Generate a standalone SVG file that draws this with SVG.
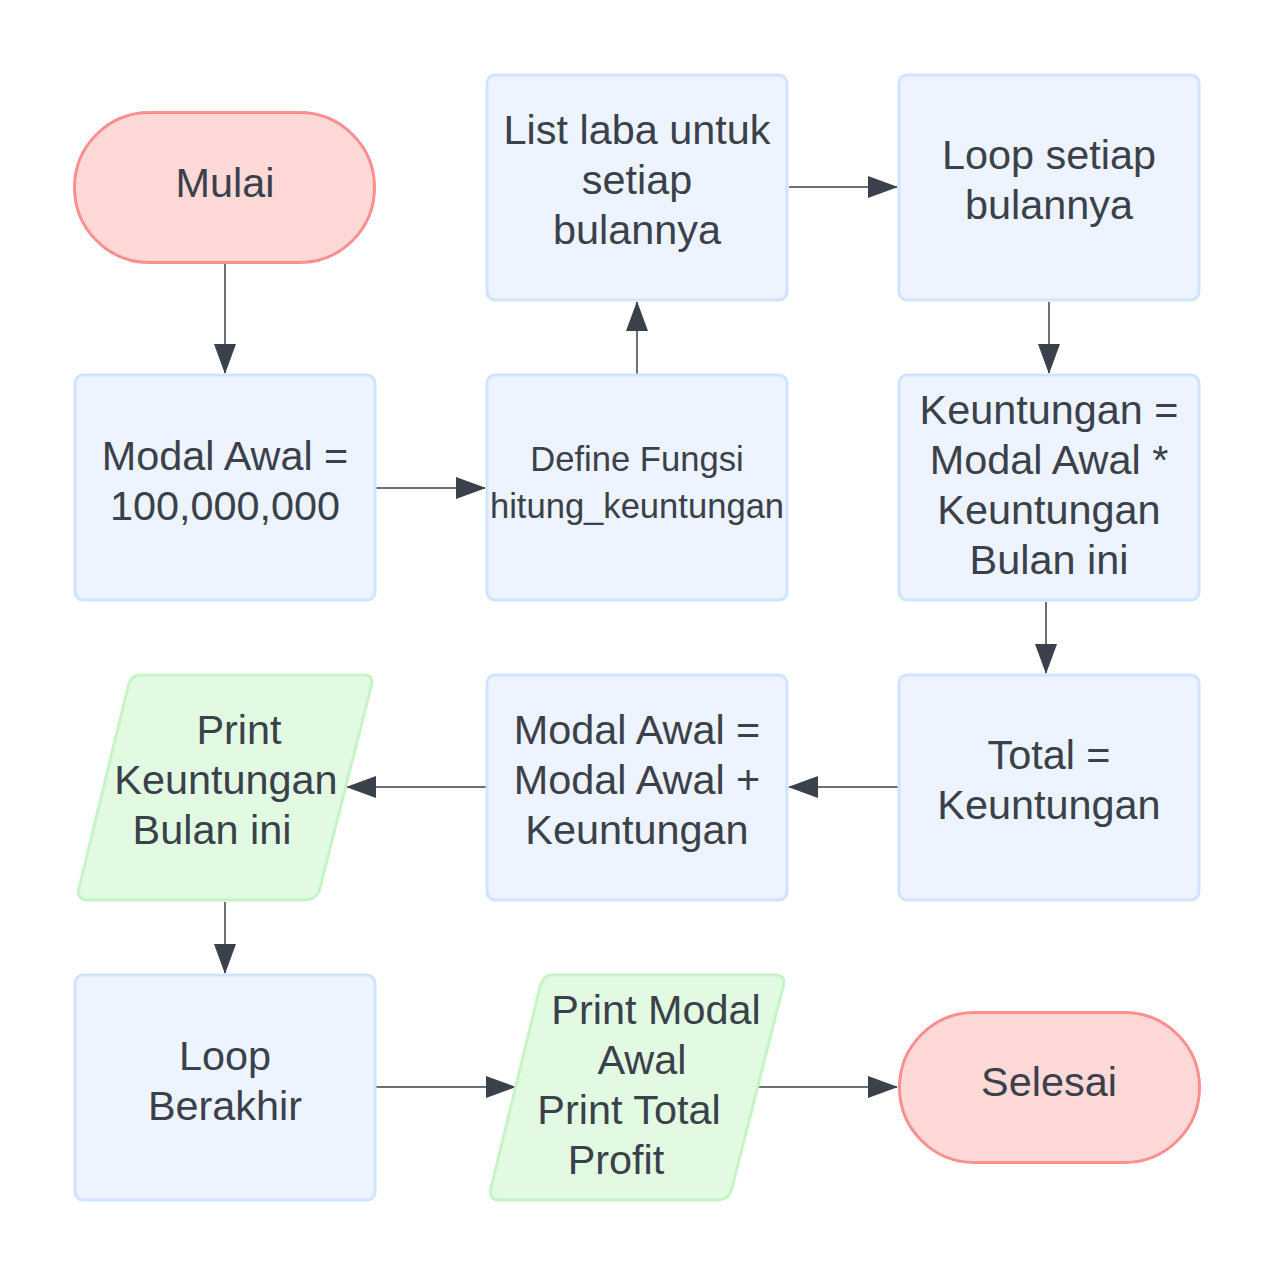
<svg xmlns="http://www.w3.org/2000/svg" width="1275" height="1275" viewBox="0 0 1275 1275">
<defs>
<style>
.term{fill:#FFD8D8;stroke:#FF8F8F;stroke-width:3}
.proc{fill:#EDF4FF;stroke:#D0E4FF;stroke-width:3}
.io{fill:#E2FAE2;stroke:#C5F5C5;stroke-width:3;stroke-linejoin:round}
text{font-family:"Liberation Sans",Arial,sans-serif;font-size:41.4px;fill:#3A414A;text-anchor:middle}
.small{font-size:34.6px}
.conn path{fill:none;stroke:#3A414A;stroke-width:1.5}
</style>
<marker id="ah" markerUnits="userSpaceOnUse" markerWidth="30" markerHeight="22" viewBox="0 0 30 22" refX="29" refY="11" orient="auto">
<path d="M0,0 L30,11 L0,22 Z" fill="#3A414A"/>
</marker>
</defs>
<rect width="1275" height="1275" fill="#FFFFFF"/>
<g class="conn">
<path d="M225,264 V373" marker-end="url(#ah)"/>
<path d="M376,488 H485" marker-end="url(#ah)"/>
<path d="M637,374 V302" marker-end="url(#ah)"/>
<path d="M789,187 H897" marker-end="url(#ah)"/>
<path d="M1049,302 V373" marker-end="url(#ah)"/>
<path d="M1046,602 V673" marker-end="url(#ah)"/>
<path d="M898,787 H789" marker-end="url(#ah)"/>
<path d="M486,787 H347" marker-end="url(#ah)"/>
<path d="M225,902 V973" marker-end="url(#ah)"/>
<path d="M376,1087 H515" marker-end="url(#ah)"/>
<path d="M758,1087 H897" marker-end="url(#ah)"/>
</g>
<g id="mulai">
<rect class="term" x="74.5" y="112.5" width="300" height="150" rx="75"/>
<text x="225" y="197">Mulai</text>
</g>
<g id="list-laba">
<rect class="proc" x="487" y="75" width="300" height="225" rx="8"/>
<text x="637" y="144">List laba untuk</text>
<text x="637" y="194">setiap</text>
<text x="637" y="244">bulannya</text>
</g>
<g id="loop-setiap">
<rect class="proc" x="899" y="75" width="300" height="225" rx="8"/>
<text x="1049" y="169">Loop setiap</text>
<text x="1049" y="219">bulannya</text>
</g>
<g id="modal-awal">
<rect class="proc" x="75" y="375" width="300" height="225" rx="8"/>
<text x="225" y="470">Modal Awal =</text>
<text x="225" y="520">100,000,000</text>
</g>
<g id="define">
<rect class="proc" x="487" y="375" width="300" height="225" rx="8"/>
<text class="small" x="637" y="471">Define Fungsi</text>
<text class="small" x="637" y="518">hitung_keuntungan</text>
</g>
<g id="keuntungan">
<rect class="proc" x="899" y="375" width="300" height="225" rx="8"/>
<text x="1049" y="424">Keuntungan =</text>
<text x="1049" y="474">Modal Awal *</text>
<text x="1049" y="524">Keuntungan</text>
<text x="1049" y="574">Bulan ini</text>
</g>
<g id="print-keuntungan">
<path class="io" d="M140,675 H363 Q375,675 371,687 L320,888 Q317,900 305,900 H88 Q76,900 79,888 L128,687 Q131,675 140,675 Z"/>
<text x="239" y="744">Print</text>
<text x="226" y="794">Keuntungan</text>
<text x="212" y="844">Bulan ini</text>
</g>
<g id="modal-update">
<rect class="proc" x="487" y="675" width="300" height="225" rx="8"/>
<text x="637" y="744">Modal Awal =</text>
<text x="637" y="794">Modal Awal +</text>
<text x="637" y="844">Keuntungan</text>
</g>
<g id="total">
<rect class="proc" x="899" y="675" width="300" height="225" rx="8"/>
<text x="1049" y="769">Total =</text>
<text x="1049" y="819">Keuntungan</text>
</g>
<g id="loop-berakhir">
<rect class="proc" x="75" y="975" width="300" height="225" rx="8"/>
<text x="225" y="1070">Loop</text>
<text x="225" y="1120">Berakhir</text>
</g>
<g id="print-modal">
<path class="io" d="M552,975 H775 Q787,975 783,987 L732,1188 Q729,1200 717,1200 H500 Q488,1200 491,1188 L540,987 Q543,975 552,975 Z"/>
<text x="656" y="1024">Print Modal</text>
<text x="642" y="1074">Awal</text>
<text x="629" y="1124">Print Total</text>
<text x="616" y="1174">Profit</text>
</g>
<g id="selesai">
<rect class="term" x="899.5" y="1012.5" width="300" height="150" rx="75"/>
<text x="1049" y="1096">Selesai</text>
</g>
</svg>
